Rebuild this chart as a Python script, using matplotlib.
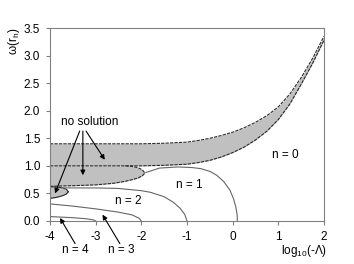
import numpy as np
import matplotlib
matplotlib.use("Agg")
import matplotlib.pyplot as plt

plt.rcParams["font.family"] = ["Liberation Sans", "DejaVu Sans"]
plt.rcParams["mathtext.default"] = "regular"

# n = 0 "no solution" band (log10(-Lambda), omega)
band_x = [-4.0, -3.0, -2.0, -1.5, -1.0, -0.75, -0.5, -0.25, 0.0, 0.25, 0.5,
          0.75, 1.0, 1.25, 1.5, 1.75, 2.0]
band_lo = [1.0, 1.0, 1.0, 1.01, 1.03, 1.06, 1.10, 1.16, 1.24, 1.34, 1.47,
           1.63, 1.84, 2.12, 2.48, 2.86, 3.28]
band_hi = [1.40, 1.40, 1.40, 1.41, 1.43, 1.46, 1.50, 1.55, 1.61, 1.69, 1.79,
           1.91, 2.07, 2.30, 2.60, 2.95, 3.35]

# n = 1 "no solution" lobe
lobe1_x = [-4.0, -3.5, -3.0, -2.6, -2.35, -2.2, -2.07, -1.98, -1.92]
lobe1_lo = [0.63, 0.64, 0.655, 0.685, 0.72, 0.75, 0.78, 0.82, 0.87]
lobe1_hi = [1.0, 1.0, 1.0, 1.0, 1.0, 0.99, 0.965, 0.93, 0.87]

# n = 2 "no solution" lobe
lobe2_x = [-4.0, -3.85, -3.72, -3.64, -3.6]
lobe2_lo = [0.41, 0.43, 0.46, 0.49, 0.53]
lobe2_hi = [0.62, 0.615, 0.60, 0.575, 0.53]

# boundary curves between the n regions
n0_x = [-1.9, -1.6, -1.2, -0.9, -0.7, -0.5, -0.35, -0.2, -0.06, 0.02, 0.07, 0.1, 0.1]
n0_y = [0.88, 0.96, 0.98, 0.97, 0.95, 0.90, 0.83, 0.72, 0.56, 0.40, 0.25, 0.10, 0.0]
n1_x = [-3.7, -3.0, -2.5, -2.0, -1.8, -1.5, -1.3, -1.15, -1.05, -1.0]
n1_y = [0.60, 0.60, 0.59, 0.55, 0.52, 0.44, 0.34, 0.23, 0.12, 0.0]
n2_x = [-4.0, -3.5, -3.0, -2.5, -2.2, -2.05, -2.0]
n2_y = [0.31, 0.27, 0.22, 0.16, 0.11, 0.05, 0.0]
n3_x = [-4.0, -3.5, -3.2, -3.05, -3.0]
n3_y = [0.08, 0.06, 0.04, 0.02, 0.0]

xticks = [-4, -3, -2, -1, 0, 1, 2]
yticks = [0.0, 0.5, 1.0, 1.5, 2.0, 2.5, 3.0, 3.5]

fig = plt.figure(figsize=(3.54, 2.64), dpi=100)
ax = fig.add_axes([0.1412, 0.1629, 0.7741, 0.731])

fill = "#c0c0c0"
edge = "#2a2a2a"
thin = "#666666"

ax.fill_between(band_x, band_lo, band_hi, color=fill, lw=0)
ax.plot(band_x, band_lo, color=edge, lw=0.8, ls=(0, (3, 1)))
ax.plot(band_x, band_hi, color=edge, lw=0.8, ls=(0, (3, 1)))

ax.fill_between(lobe1_x, lobe1_lo, lobe1_hi, color=fill, lw=0)
ax.plot(lobe1_x, lobe1_lo, color=edge, lw=0.8, ls=(0, (3, 1)))
ax.plot(lobe1_x[4:], lobe1_hi[4:], color=edge, lw=0.8, ls=(0, (3, 1)))

ax.fill_between(lobe2_x, lobe2_lo, lobe2_hi, color=fill, lw=0)
ax.plot(lobe2_x, lobe2_lo, color=edge, lw=0.8)
ax.plot(lobe2_x, lobe2_hi, color=edge, lw=0.8)

for cx, cy in [(n0_x, n0_y), (n1_x, n1_y), (n2_x, n2_y), (n3_x, n3_y)]:
    ax.plot(cx, cy, color=thin, lw=0.8)

ax.set_xlim(-4, 2)
ax.set_ylim(0, 3.5)
ax.set_xticks(xticks)
ax.set_xticklabels([str(t) for t in xticks])
ax.set_yticks(yticks)
ax.set_yticklabels([f"{t:.1f}" for t in yticks])
ax.tick_params(direction="out", length=3, width=0.8, color="#808080",
               labelsize=8.5, pad=4)
for s in ax.spines.values():
    s.set_color("#808080")
    s.set_linewidth(0.8)

ax.text(-0.131, 1.0, r"$\omega$(r$_{h}$)", transform=ax.transAxes,
        rotation=90, ha="center", va="top", fontsize=8.5)
ax.text(1.01, -0.158, r"log$_{10}$(-$\Lambda$)", transform=ax.transAxes,
        ha="right", va="center", fontsize=8.5)

arrow = dict(arrowstyle="-|>", lw=0.8, color="k", mutation_scale=7,
             shrinkA=0, shrinkB=0)
ax.text(-3.135, 1.79, "no solution", ha="center", va="center", fontsize=8.5)
ax.annotate("", xy=(-3.89, 0.50), xytext=(-3.35, 1.63), arrowprops=arrow)
ax.annotate("", xy=(-3.28, 0.83), xytext=(-3.28, 1.63), arrowprops=arrow)
ax.annotate("", xy=(-2.80, 1.11), xytext=(-3.21, 1.63), arrowprops=arrow)

ax.text(1.146, 1.197, "n = 0", ha="center", va="center", fontsize=8.5)
ax.text(-0.96, 0.645, "n = 1", ha="center", va="center", fontsize=8.5)
ax.text(-2.285, 0.357, "n = 2", ha="center", va="center", fontsize=8.5)
ax.text(-2.43, -0.53, "n = 3", ha="center", va="center", fontsize=8.5)
ax.text(-3.45, -0.53, "n = 4", ha="center", va="center", fontsize=8.5)
ax.annotate("", xy=(-3.78, 0.055), xytext=(-3.45, -0.41), arrowprops=arrow,
            annotation_clip=False)
ax.annotate("", xy=(-2.85, 0.115), xytext=(-2.47, -0.41), arrowprops=arrow,
            annotation_clip=False)

fig.savefig("out.png", dpi=100)
